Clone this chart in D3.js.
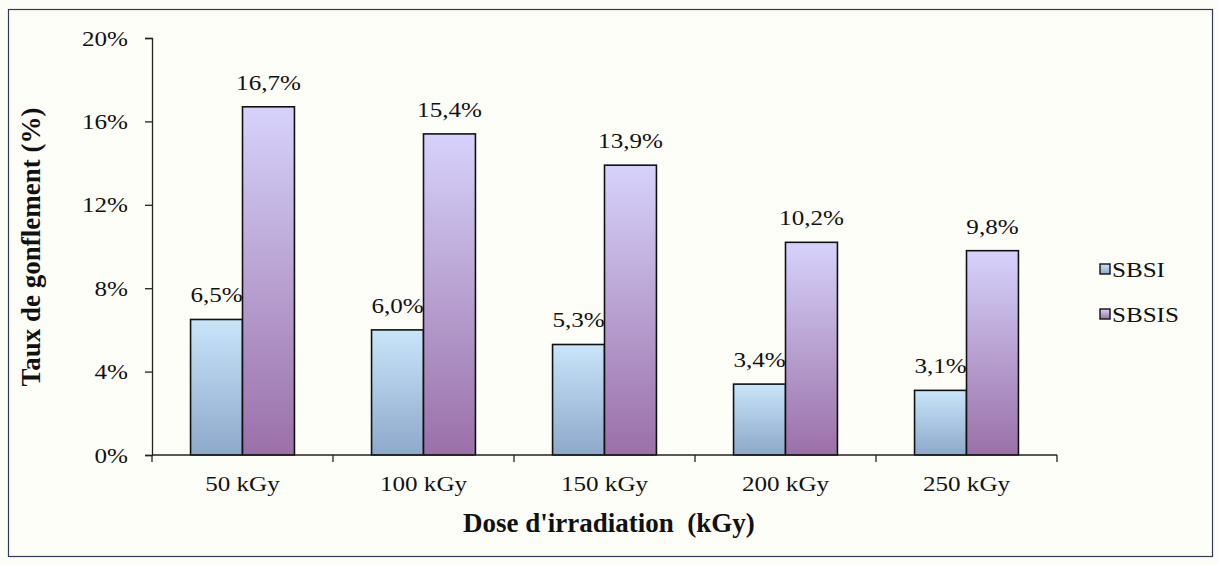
<!DOCTYPE html>
<html>
<head>
<meta charset="utf-8">
<script src="https://cdn.jsdelivr.net/npm/d3@7"></script>
<style>
  html, body { margin: 0; padding: 0; background: #fdfdf7; }
  svg { display: block; }
  svg text { font-family: 'Liberation Serif', 'Times New Roman', Times, 'DejaVu Serif', serif; fill: #111; }
</style>
</head>
<body>
<svg id="chart" width="1218" height="565"></svg>
<script>
// Swelling rate by irradiation dose, two formulations
const categories = ["50 kGy", "100 kGy", "150 kGy", "200 kGy", "250 kGy"];
const seriesNames = ["SBSI", "SBSIS"];
const sbsi = [6.5, 6.0, 5.3, 3.4, 3.1];
const sbsis = [16.7, 15.4, 13.9, 10.2, 9.8];
const yTicks = [0, 4, 8, 12, 16, 20];

const FONT = "'Liberation Serif', 'Times New Roman', Times, 'DejaVu Serif', serif";
const svg = d3.select("#chart");

// regular labels are set slightly wide
const FS = 22, SX = 1.14;
function label(parent, x, y, str, anchor) {
  return parent.append("text")
    .attr("transform", `translate(${x},${y}) scale(${SX},1)`)
    .attr("text-anchor", anchor || "middle")
    .attr("font-family", FONT)
    .attr("font-weight", 400)
    .attr("font-size", FS)
    .text(str);
}

// chart frame
svg.append("rect")
  .attr("x", 8.5).attr("y", 9.5)
  .attr("width", 1204).attr("height", 547)
  .attr("fill", "#fefef9")
  .attr("stroke", "#333a55").attr("stroke-width", 1.2);

const plot = { left: 152, right: 1057, top: 38, bottom: 455 };

const x = d3.scaleBand().domain(categories)
  .range([plot.left, plot.right]).paddingInner(0).paddingOuter(0);
const y = d3.scaleLinear().domain([0, 20]).range([plot.bottom, plot.top]);

// gradients for the two series
const defs = svg.append("defs");
function grad(id, top, bottom) {
  const g = defs.append("linearGradient").attr("id", id)
    .attr("x1", 0).attr("y1", 0).attr("x2", 0).attr("y2", 1);
  g.append("stop").attr("offset", "0%").attr("stop-color", top);
  g.append("stop").attr("offset", "100%").attr("stop-color", bottom);
}
grad("gSBSI", "#c8e5fa", "#8ea8ca");
grad("gSBSIS", "#d6d2fb", "#9a70a8");
const fills = ["url(#gSBSI)", "url(#gSBSIS)"];

// two bars per band, centred with a wide gap between groups
const barW = x.bandwidth() * 0.287;
const offset = (x.bandwidth() - 2 * barW) / 2;
const series = [sbsi, sbsis];

series.forEach((vals, s) => {
  svg.append("g").selectAll("rect")
    .data(vals)
    .join("rect")
    .attr("x", (d, i) => x(categories[i]) + offset + s * barW)
    .attr("y", d => y(d))
    .attr("width", barW)
    .attr("height", d => y(0) - y(d))
    .attr("fill", fills[s])
    .attr("stroke", "#111")
    .attr("stroke-width", 1.6);

  const lg = svg.append("g");
  vals.forEach((d, i) => {
    label(lg, x(categories[i]) + offset + s * barW + barW / 2, y(d) - 17,
      d.toFixed(1).replace(".", ",") + "%");
  });
});

// y axis
const yAxis = d3.axisLeft(y).tickValues(yTicks).tickSize(7).tickSizeOuter(7)
  .tickFormat(d => d + "%");
const gy = svg.append("g").attr("transform", `translate(${plot.left},0)`).call(yAxis);
gy.attr("font-family", null);
gy.selectAll("path, line").attr("stroke", "#222").attr("stroke-width", 1.3);
gy.selectAll(".tick text").remove();
yTicks.forEach(t => label(gy, -24, y(t) + 7.5, t + "%", "end"));

// x axis with ticks on the category boundaries
const gx = svg.append("g").attr("transform", `translate(0,${plot.bottom})`);
gx.append("line").attr("x1", plot.left).attr("x2", plot.right)
  .attr("y1", 0).attr("y2", 0).attr("stroke", "#222").attr("stroke-width", 1.3);
const boundaries = categories.map(c => x(c)).concat([x(categories[categories.length - 1]) + x.bandwidth()]);
gx.selectAll("line.tick").data(boundaries).join("line")
  .attr("class", "tick")
  .attr("x1", d => d).attr("x2", d => d).attr("y1", 0).attr("y2", 7)
  .attr("stroke", "#222").attr("stroke-width", 1.3);
categories.forEach(c => label(gx, x(c) + x.bandwidth() / 2, 36, c));

// axis titles
svg.append("text")
  .attr("x", 609).attr("y", 532)
  .attr("text-anchor", "middle")
  .attr("font-family", FONT)
  .attr("font-size", 27).attr("font-weight", "bold")
  .attr("xml:space", "preserve")
  .text("Dose d'irradiation  (kGy)");

svg.append("text")
  .attr("transform", "translate(40,247) rotate(-90)")
  .attr("text-anchor", "middle")
  .attr("font-family", FONT)
  .attr("font-size", 27).attr("font-weight", "bold")
  .text("Taux de gonflement (%)");

// legend
const legend = svg.append("g");
seriesNames.forEach((name, i) => {
  const ly = 269 + i * 45;
  legend.append("rect")
    .attr("x", 1100).attr("y", ly - 5).attr("width", 10).attr("height", 10)
    .attr("fill", fills[i]).attr("stroke", "#111").attr("stroke-width", 1.4);
  label(legend, 1112, ly + 8, name, "start");
});
</script>
</body>
</html>
